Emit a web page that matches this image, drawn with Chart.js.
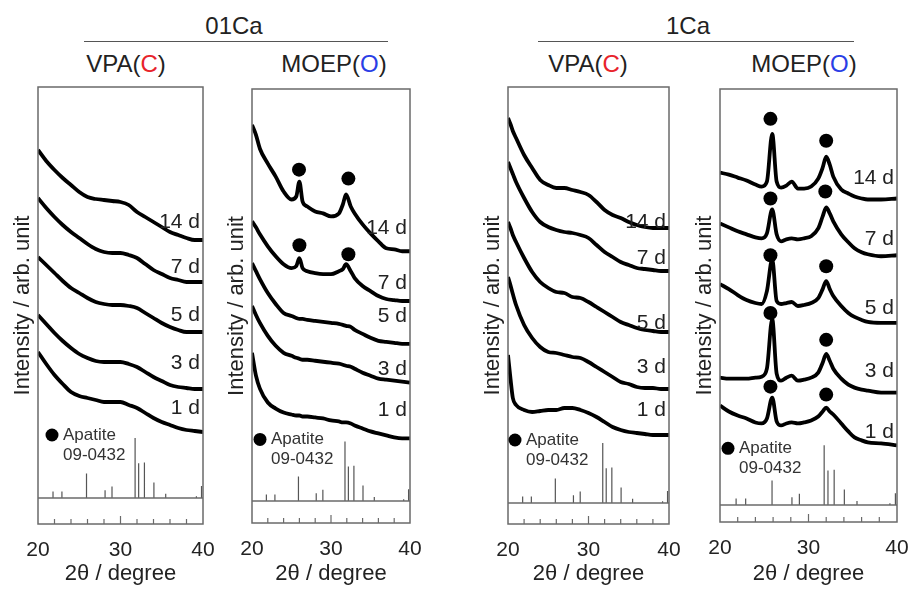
<!DOCTYPE html>
<html>
<head>
<meta charset="utf-8">
<script src="https://cdn.jsdelivr.net/npm/chart.js@4.4.0/dist/chart.umd.min.js"></script>
<style>
  body { margin: 0; background: #fff; width: 913px; height: 590px; position: relative; overflow: hidden;
         font-family: "Liberation Sans", Arial, sans-serif; color: #222; }
  canvas { position: absolute; }
  .hdr { position: absolute; transform: translate(-50%, -50%); font-size: 24px; white-space: nowrap; }
  .rule { position: absolute; height: 0; border-top: 1.5px solid #555; }
  .red { color: #e8232b; }
  .blue { color: #2a3ee6; }
</style>
</head>
<body>

<div class="hdr" style="left:234px; top:26px;">01Ca</div>
<div class="rule" style="left:84px; top:41px; width:304px;"></div>
<div class="hdr" style="left:688px; top:26px;">1Ca</div>
<div class="rule" style="left:538px; top:41px; width:316px;"></div>

<div class="hdr" style="left:126px; top:64px;">VPA(<span class="red">C</span>)</div>
<div class="hdr" style="left:334px; top:64px;">MOEP(<span class="blue">O</span>)</div>
<div class="hdr" style="left:588px; top:64px;">VPA(<span class="red">C</span>)</div>
<div class="hdr" style="left:804px; top:64px;">MOEP(<span class="blue">O</span>)</div>

<canvas id="p1"></canvas>
<canvas id="p2"></canvas>
<canvas id="p3"></canvas>
<canvas id="p4"></canvas>

<script>
// day labels (top to bottom)
const dayLabels = ['14 d', '7 d', '5 d', '3 d', '1 d'];

// ---- 01Ca VPA(C) ----
const p1x = [20, 21, 22, 23, 24, 25, 26, 27, 28, 29, 30, 31, 32, 33, 34, 35, 36, 37, 38, 39, 40];
const p1d14 = [348, 337, 328, 320, 313, 306, 301, 299, 298, 297, 296, 293, 286, 281, 276, 271, 266, 263, 260, 258, 258];
const p1d7 = [300, 290, 281, 273, 266, 260, 254, 249, 246, 245, 245, 243, 240, 234, 228, 224, 220, 218, 216, 216, 216];
const p1d5 = [241, 233, 225, 217, 210, 205, 200, 196, 194, 193, 193, 192, 190, 185, 180, 175, 171, 168, 166, 166, 166];
const p1d3 = [183, 174, 165, 157, 150, 144, 140, 137, 136, 136, 136, 134, 131, 126, 121, 117, 113, 111, 110, 109, 109];
const p1d1 = [146, 134, 123, 114, 106, 102, 100, 98, 96, 96, 96, 93, 90, 85, 80, 76, 73, 70, 68, 67, 66];
const p1LabelY = [276, 231, 183, 135, 90];

// ---- 01Ca MOEP(O) ----
const p2x = [20, 20.5, 21, 22, 23, 24, 25, 25.6, 26, 26.4, 27, 28, 29, 30, 31, 31.5, 31.9, 32.5, 33, 34, 35, 36, 37, 38, 39, 40];
const p2d14 = [378, 368, 354, 339, 326, 311, 303, 306, 321, 301, 296, 291, 289, 286, 289, 298, 308, 296, 289, 278, 269, 261, 254, 253, 251, 251];
const p2d7 = [281, 275, 268, 256, 246, 238, 234, 236, 244, 234, 231, 229, 228, 228, 231, 233, 238, 231, 224, 216, 211, 206, 203, 202, 201, 201];
const p2d5 = [239, 231, 223, 209, 198, 189, 186, 184, 183, 183, 182, 181, 180, 179, 178, 177, 176, 175, 172, 168, 164, 161, 160, 159, 158, 158];
const p2d3 = [196, 187, 179, 166, 156, 149, 146, 144, 143, 142, 142, 141, 140, 139, 138, 137, 136, 135, 133, 129, 126, 123, 122, 121, 120, 119];
const p2d1 = [149, 126, 113, 99, 93, 89, 87, 86, 86, 85, 85, 84, 83, 81, 80, 79, 79, 78, 76, 73, 70, 68, 66, 64, 63, 63];
const p2LabelY = [274, 219, 186, 133, 91];
const p2MarkX = [25.95, 32.2, 26.0, 32.2];
const p2MarkY = [333, 324, 257, 248];

// ---- 1Ca VPA(C) ----
const p3x = [20, 20.3, 20.6, 21, 22, 23, 24, 25, 26, 27, 28, 29, 30, 31, 32, 33, 34, 35, 36, 37, 38, 39, 40];
const p3d14 = [385, 379, 372, 365, 348, 335, 323, 318, 315, 315, 313, 311, 308, 301, 293, 288, 285, 281, 278, 276, 275, 275, 275];
const p3d7 = [341, 335, 329, 321, 305, 291, 281, 276, 273, 271, 270, 268, 265, 258, 251, 246, 241, 238, 235, 234, 233, 232, 232];
const p3d5 = [281, 275, 268, 261, 245, 231, 221, 215, 211, 210, 206, 205, 201, 196, 191, 186, 181, 178, 175, 173, 172, 171, 171];
const p3d3 = [226, 218, 209, 198, 178, 165, 156, 151, 150, 148, 146, 145, 141, 136, 131, 126, 121, 119, 116, 115, 115, 114, 114];
const p3d1 = [148, 125, 105, 98, 93, 91, 92, 93, 93, 95, 95, 93, 90, 86, 81, 76, 73, 71, 70, 69, 68, 68, 68];
const p3LabelY = [281, 245, 180, 136, 93];

// ---- 1Ca MOEP(O) ----
const p4x = [20, 21, 22, 23, 24, 24.7, 25.3, 25.9, 26.4, 26.9, 27.5, 28.1, 28.8, 29.5, 30.3, 31.1, 31.6, 32, 32.4, 32.8, 33.7, 34.5, 35.2, 36, 36.7, 38.2, 40];
const p4d14 = [334, 332, 329, 326, 322, 320, 325, 373, 325, 319, 321, 325, 318, 318, 320, 328, 339, 350, 342, 330, 317, 313, 310, 308, 307, 307, 308];
const p4d7 = [283, 279, 275, 272, 269, 268, 273, 297, 272, 265, 267, 268, 267, 268, 270, 278, 290, 299, 293, 285, 272, 264, 258, 254, 252, 250, 251];
const p4d5 = [222, 217, 211, 206, 203, 202, 215, 247, 205, 202, 203, 204, 200, 201, 203, 208, 217, 225, 217, 210, 200, 193, 189, 186, 184, 183, 183];
const p4d3 = [128, 127, 127, 127, 128, 129, 137, 187, 132, 125, 128, 130, 125, 126, 128, 133, 143, 152, 145, 137, 127, 121, 118, 116, 115, 113, 113];
const p4d1 = [100, 94, 90, 87, 83, 82, 87, 108, 84, 80, 82, 83, 82, 83, 85, 89, 94, 98, 94, 91, 82, 74, 68, 65, 63, 62, 60];
const p4LabelY = [328, 267, 198, 134, 73];
const p4MarkX = [25.7, 32.0, 25.7, 31.9, 25.7, 32.0, 25.7, 32.0, 25.7, 32.0];
const p4MarkY = [388, 366, 308, 315, 251, 240, 193, 166, 119, 111];

// Apatite reference card 09-0432 (relative intensity, %)
const refPos = [21.82, 22.9, 25.88, 28.13, 28.97, 31.77, 32.2, 32.9, 34.05, 35.48, 39.2, 39.82];
const refInt = [11, 11, 41, 13, 19, 100, 58, 59, 26, 7, 3, 20];

const minorTicks = [22, 24, 26, 28, 30, 32, 34, 36, 38];

Chart.defaults.font.family = "'Liberation Sans', Arial, sans-serif";
Chart.defaults.color = '#222';

const STICK_PX = 0.6;   // px per % of the reference sticks
const FRAME = '#6a6a6a';

function stickData() {
    const out = [];
    refPos.forEach((p, i) => {
        out.push({ x: p, y: 0 }, { x: p, y: refInt[i] * STICK_PX }, { x: p, y: null });
    });
    return out;
}

// frame, separator, inward ticks, day labels and legend
const decor = {
    id: 'decor',
    afterDatasetsDraw(chart, args, o) {
        const { ctx, chartArea: a, scales: { x, y } } = chart;
        ctx.save();
        ctx.strokeStyle = FRAME;
        ctx.lineWidth = 1.5;
        ctx.strokeRect(a.left, a.top, a.right - a.left, a.bottom - a.top);
        const y0 = y.getPixelForValue(0);
        ctx.beginPath();
        ctx.moveTo(a.left, y0);
        ctx.lineTo(a.right, y0);
        ctx.stroke();
        ctx.lineWidth = 1.2;
        minorTicks.forEach(t => {
            const px = x.getPixelForValue(t);
            ctx.beginPath();
            ctx.moveTo(px, a.bottom);
            ctx.lineTo(px, a.bottom - (t === 30 ? 8 : 5));
            ctx.stroke();
        });

        ctx.fillStyle = '#222';
        ctx.font = "21px 'Liberation Sans', Arial, sans-serif";
        ctx.textAlign = 'right';
        ctx.textBaseline = 'middle';
        o.labelY.forEach((v, i) => {
            ctx.fillText(dayLabels[i], a.right - 3, y.getPixelForValue(v));
        });

        const lx = a.left + o.legend.dx;
        const ly = y.getPixelForValue(o.legend.y);
        ctx.fillStyle = '#000';
        ctx.beginPath();
        ctx.arc(lx, ly, 6.5, 0, Math.PI * 2);
        ctx.fill();
        ctx.fillStyle = '#333';
        ctx.font = "17px 'Liberation Sans', Arial, sans-serif";
        ctx.textAlign = 'left';
        ctx.fillText('Apatite', lx + 11, ly);
        ctx.fillText('09-0432', lx + 11, ly + 20);
        ctx.restore();
    }
};

function makePanel(id, box, xs, series, labelY, legend, markX, markY) {
    const cv = document.getElementById(id);
    const padL = 30, padR = 25, padT = 5;
    const W = box.right - box.left + padL + padR;
    const H = 590 - (box.top - padT);
    cv.width = W;
    cv.height = H;
    cv.style.left = (box.left - padL) + 'px';
    cv.style.top = (box.top - padT) + 'px';
    const xH = H - padT - (box.bottom - box.top);

    const datasets = series.map(s => ({
        type: 'line',
        data: xs.map((x, i) => ({ x: x, y: s[i] })),
        borderColor: '#000',
        borderWidth: 3.8,
        pointRadius: 0,
        cubicInterpolationMode: 'monotone'
    }));
    datasets.push({
        type: 'line',
        data: stickData(),
        borderColor: '#555',
        borderWidth: 1.2,
        pointRadius: 0,
        spanGaps: false
    });
    if (markX) {
        datasets.push({
            type: 'scatter',
            data: markX.map((x, i) => ({ x: x, y: markY[i] })),
            backgroundColor: '#000',
            borderWidth: 0,
            pointRadius: 7
        });
    }

    new Chart(cv, {
        data: { datasets: datasets },
        options: {
            responsive: false,
            animation: false,
            layout: { padding: { left: 0, right: padR, top: padT, bottom: 0 } },
            plugins: {
                legend: { display: false },
                tooltip: { enabled: false },
                decor: { labelY: labelY, legend: legend }
            },
            scales: {
                x: {
                    type: 'linear', min: 20, max: 40, position: 'bottom',
                    grid: { display: false, drawTicks: false },
                    border: { display: false },
                    ticks: { stepSize: 10, padding: 14, maxRotation: 0, autoSkip: false, font: { size: 21 } },
                    title: { display: true, text: '2θ / degree', font: { size: 22 }, padding: { top: 0, bottom: 3 } },
                    afterFit: s => { s.height = xH; s.paddingLeft = 0; s.paddingRight = 0; }
                },
                y: {
                    type: 'linear', position: 'left',
                    min: -(box.bottom - box.sep), max: box.sep - box.top,
                    grid: { display: false, drawTicks: false },
                    border: { display: false },
                    ticks: { display: false },
                    title: { display: true, text: 'Intensity / arb. unit', font: { size: 22 }, padding: { top: 2, bottom: 0 } },
                    afterFit: s => { s.width = padL; s.paddingTop = 0; s.paddingBottom = 0; }
                }
            }
        },
        plugins: [decor]
    });
}

makePanel('p1', { left: 38, right: 203, top: 87, bottom: 524, sep: 498 }, p1x,
    [p1d14, p1d7, p1d5, p1d3, p1d1], p1LabelY, { dx: 14, y: 63 });
makePanel('p2', { left: 252, right: 410, top: 87, bottom: 523, sep: 501 }, p2x,
    [p2d14, p2d7, p2d5, p2d3, p2d1], p2LabelY, { dx: 8, y: 62 }, p2MarkX, p2MarkY);
makePanel('p3', { left: 508, right: 669, top: 87, bottom: 524, sep: 503 }, p3x,
    [p3d14, p3d7, p3d5, p3d3, p3d1], p3LabelY, { dx: 7, y: 63 });
makePanel('p4', { left: 720, right: 897, top: 87, bottom: 522, sep: 505 }, p4x,
    [p4d14, p4d7, p4d5, p4d3, p4d1], p4LabelY, { dx: 8, y: 57 }, p4MarkX, p4MarkY);
</script>
</body>
</html>
